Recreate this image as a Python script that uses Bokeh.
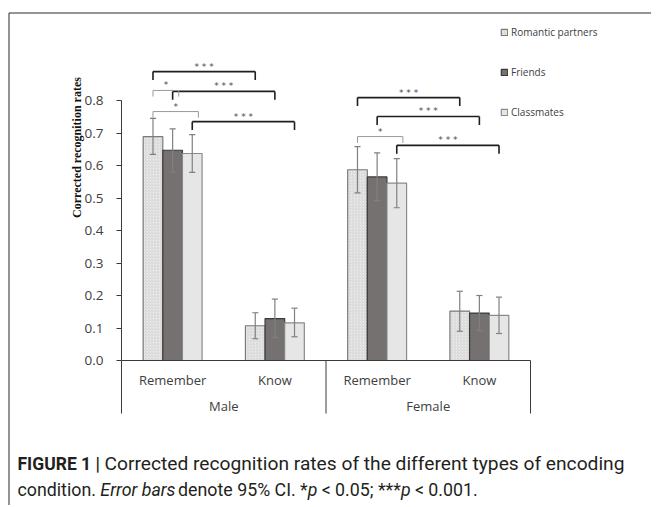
import math
from bokeh.plotting import figure
from bokeh.models import (FactorRange, ColumnDataSource, Legend, LegendItem, Label,
                          FixedTicker, NumeralTickFormatter)
from bokeh.transform import dodge
from bokeh.core.properties import value
from bokeh.embed import file_html
from bokeh.resources import INLINE

# ---------------- data ----------------
genders = ["Male", "Female"]
conditions = ["Remember", "Know"]
series_names = ["Romantic partners", "Friends", "Classmates"]

# order of values: Male-Remember, Male-Know, Female-Remember, Female-Know
romantic = [0.689, 0.107, 0.587, 0.152]
friends = [0.647, 0.129, 0.565, 0.146]
classmates = [0.637, 0.116, 0.546, 0.139]

romantic_lo = [0.634, 0.067, 0.516, 0.090]
romantic_hi = [0.745, 0.147, 0.658, 0.213]
friends_lo = [0.580, 0.071, 0.492, 0.092]
friends_hi = [0.713, 0.189, 0.639, 0.200]
classmates_lo = [0.579, 0.073, 0.470, 0.083]
classmates_hi = [0.695, 0.161, 0.621, 0.195]

y_ticks = [0.0, 0.1, 0.2, 0.3, 0.4, 0.5, 0.6, 0.7, 0.8]

# significance comparisons (gender, condition A, series A, condition B, series B, label, bracket level)
comp_gender = ["Male", "Male", "Male", "Male", "Male", "Female", "Female", "Female", "Female"]
comp_cond_a = ["Remember"] * 9
comp_series_a = [0, 0, 1, 0, 2, 0, 1, 0, 2]
comp_cond_b = ["Know", "Remember", "Know", "Remember", "Know", "Know", "Know", "Remember", "Know"]
comp_series_b = [0, 1, 1, 2, 2, 0, 1, 2, 2]
comp_label = ["***", "*", "***", "*", "***", "***", "***", "*", "***"]
comp_level = [0.889, 0.831, 0.828, 0.766, 0.735, 0.809, 0.751, 0.689, 0.662]

# ---------------- layout constants ----------------
W, H = 651, 505
FW = 102.25          # px per factor
X0 = 121             # px of left edge of first factor
Y0 = 360             # px of y = 0
PPU = 325.0          # px per unit of y
BW = 0.192           # bar width in factor units

pad_side = (W / FW - 4) / 2
y_top = Y0 / PPU
y_bot = -(H - Y0) / PPU


def sx(px):
    return (px - X0) / FW


def sy(py):
    return (Y0 - py) / PPU


factors = [(g, c) for g in genders for c in conditions]
x_range = FactorRange(*factors, group_padding=0, factor_padding=0, subgroup_padding=0,
                      range_padding=pad_side, range_padding_units="absolute")

p = figure(width=W, height=H, x_range=x_range, y_range=(y_bot, y_top),
           output_backend="svg", toolbar_location=None, min_border=0,
           background_fill_color="white", border_fill_color="white")
p.outline_line_color = None
p.grid.visible = False

AX_FONT = "Open Sans"
AX_COLOR = "#404040"

# y axis
yax = p.yaxis[0]
yax.fixed_location = 0
yax.bounds = (0, 0.8)
yax.ticker = FixedTicker(ticks=y_ticks)
yax.formatter = NumeralTickFormatter(format="0.0")
yax.minor_tick_line_color = None
yax.major_tick_in = 0
yax.major_tick_out = 5
yax.major_label_standoff = 13
yax.axis_line_color = "#3a3a3a"
yax.major_tick_line_color = "#3a3a3a"
yax.major_label_text_font = AX_FONT
yax.major_label_text_font_size = "13.5px"
yax.major_label_text_color = AX_COLOR

# x axis
xax = p.xaxis[0]
xax.fixed_location = 0
xax.bounds = (0, 4)
xax.major_tick_line_color = None
xax.minor_tick_line_color = None
xax.major_tick_out = 0
xax.major_tick_in = 0
xax.axis_line_color = "#3a3a3a"
xax.major_label_standoff = 10
xax.major_label_text_font = AX_FONT
xax.major_label_text_font_size = "13px"
xax.major_label_text_color = AX_COLOR
xax.group_text_color = None
xax.separator_line_color = None

# gender labels under the condition labels
p.text(x=genders, y=[sy(405)] * 2, text=genders, text_align="center", text_baseline="middle",
       text_font=value(AX_FONT), text_font_size="13px", text_color=AX_COLOR)

# outer frame lines (top and left)
p.segment(x0=[sx(8.5), sx(8.5)], y0=[sy(12.5), sy(12.5)], x1=[sx(700), sx(8.5)], y1=[sy(12.5), sy(700)],
          line_color="#2b2b2b", line_width=1)

# group separators below the axis
sep_x = [("Male", "Remember", -0.5), ("Female", "Remember", -0.5), ("Female", "Know", 0.5)]
p.segment(x0=sep_x, y0=[0, 0, 0], x1=sep_x, y1=[sy(413)] * 3, line_color="#3a3a3a", line_width=1)

# bars
src = ColumnDataSource(dict(x=factors, romantic=romantic, friends=friends, classmates=classmates,
                            romantic_lo=romantic_lo, romantic_hi=romantic_hi,
                            friends_lo=friends_lo, friends_hi=friends_hi,
                            classmates_lo=classmates_lo, classmates_hi=classmates_hi))

styles = [
    dict(fill_color="#ececec", line_color="#7a7a7a", hatch_pattern="/", hatch_color="#c4c4c4",
         hatch_scale=3.0, hatch_weight=0.6),
    dict(fill_color="#767171", line_color="#3a3a3a"),
    dict(fill_color="#e6e6e6", line_color="#8a8a8a"),
]
keys = ["romantic", "friends", "classmates"]
renderers = []
for i, (k, st) in enumerate(zip(keys, styles)):
    off = (i - 1) * BW
    r = p.vbar(x=dodge("x", off, range=p.x_range), top=k, width=BW, bottom=0, source=src,
               line_width=1.2, **st)
    renderers.append(r)
    xd = dodge("x", off, range=p.x_range)
    p.segment(x0=xd, y0=k + "_lo", x1=xd, y1=k + "_hi", source=src, line_color="#808080", line_width=1.2)
    cap = 0.03
    p.segment(x0=dodge("x", off - cap, range=p.x_range), y0=k + "_hi",
              x1=dodge("x", off + cap, range=p.x_range), y1=k + "_hi", source=src,
              line_color="#808080", line_width=1.2)
    p.segment(x0=dodge("x", off - cap, range=p.x_range), y0=k + "_lo",
              x1=dodge("x", off + cap, range=p.x_range), y1=k + "_lo", source=src,
              line_color="#808080", line_width=1.2)

# significance brackets
cond_idx = {c: i for i, c in enumerate(conditions)}
for strong in (True, False):
    hx0, hx1, hy, lx, ly0, ly1, tx, ty, tt = [], [], [], [], [], [], [], [], []
    for g, ca, sa, cb, sb, lab, lev in zip(comp_gender, comp_cond_a, comp_series_a, comp_cond_b,
                                           comp_series_b, comp_label, comp_level):
        if (lab == "***") != strong:
            continue
        offa = (sa - 1) * BW
        offb = (sb - 1) * BW
        if not strong:
            offb += 0.06
        drop = 0.026 if strong else 0.019
        xa = (g, ca, offa)
        xb = (g, cb, offb)
        hx0.append(xa); hx1.append(xb); hy.append(lev)
        lx += [xa, xb]; ly0 += [lev, lev]; ly1 += [lev - drop, lev - drop]
        mid = ((cond_idx[cb] + offb) - (cond_idx[ca] + offa)) / 2 + offa
        tx.append((g, ca, mid)); ty.append(lev); tt.append(" ".join(lab))
    col = "#1e1e1e" if strong else "#9a9a9a"
    lw = 1.6 if strong else 1.0
    p.segment(x0=hx0, y0=hy, x1=hx1, y1=hy, line_color=col, line_width=lw)
    p.segment(x0=lx, y0=ly0, x1=lx, y1=ly1, line_color=col, line_width=lw)
    p.text(x=tx, y=ty, text=tt, text_align="center", text_baseline="bottom", y_offset=0,
           text_font=value("DejaVu Sans"), text_font_size="9px", text_color="#4a4a4a")

# legend
legend = Legend(items=[LegendItem(label=n, renderers=[r]) for n, r in zip(series_names, renderers)],
                location=(500, H - 119), orientation="vertical", glyph_width=8, glyph_height=8,
                label_text_font=AX_FONT, label_text_font_size="10px", label_text_color=AX_COLOR,
                label_height=12, label_standoff=3, spacing=26, padding=0, margin=0,
                border_line_color=None, background_fill_alpha=0)
p.add_layout(legend)

# y axis title
p.add_layout(Label(x=sx(76), y=sy(147), text="Corrected recognition rates", angle=math.pi / 2,
                   text_align="center", text_baseline="middle", text_font="Liberation Serif",
                   text_font_style="bold", text_font_size="12px", text_color="#111111"))

# caption (pieces laid out with approximate Roboto advance widths, in em)
ADV = {" ": .248, ".": .263, ";": .212, "*": .431, "<": .508, "%": .733, "C": .652, "I": .272,
       "E": .568, "a": .544, "b": .561, "c": .523, "d": .563, "e": .529, "i": .243, "n": .552,
       "o": .570, "p": .561, "r": .338, "s": .516, "t": .327}


def adv(t, size, italic=False):
    w = sum(ADV.get(ch, .562) for ch in t) * size
    return w * (0.945 if italic else 1.0)


CAP_FONT = "Roboto"
CAP_COLOR = "#231f20"
p.add_layout(Label(x=sx(17), y=sy(463), text="FIGURE 1 |", text_align="left", text_baseline="alphabetic",
                   text_font=CAP_FONT, text_font_style="bold", text_font_size="17.5px", text_color=CAP_COLOR))
p.add_layout(Label(x=sx(104), y=sy(463), text="Corrected recognition rates of the different types of encoding",
                   text_align="left", text_baseline="alphabetic", text_font=CAP_FONT,
                   text_font_size="19.2px", text_color=CAP_COLOR))
L2 = 17.8
line2 = [("condition.", "normal"), ("Error bars", "italic"), ("denote 95% CI. *", "normal"),
         ("p", "italic"), ("< 0.05; ***", "normal"), ("p", "italic"), ("< 0.001.", "normal")]
cx = 17.0
for t, st in line2:
    p.add_layout(Label(x=sx(cx), y=sy(489), text=t, text_align="left", text_baseline="alphabetic",
                       text_font=CAP_FONT, text_font_style=st, text_font_size=f"{L2}px",
                       text_color=CAP_COLOR))
    cx += adv(t, L2, st == "italic")
    if not t.endswith("*"):
        cx += adv(" ", L2)

open("out.html", "w").write(file_html(p, INLINE))
